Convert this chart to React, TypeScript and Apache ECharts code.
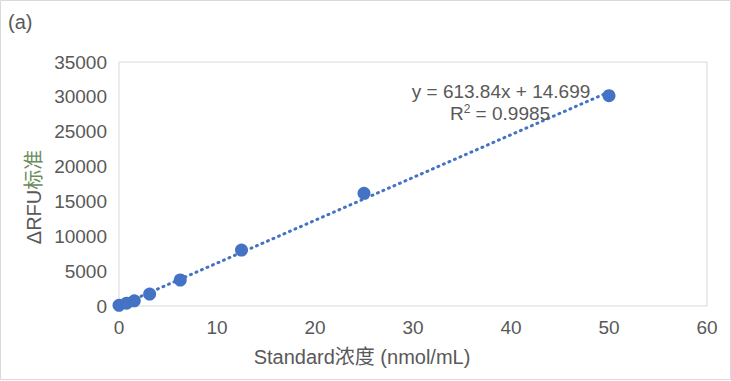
import React, { useEffect, useRef } from "react";
import * as echarts from "echarts";

// Data
const concentrations = [0, 0.78, 1.5625, 3.125, 6.25, 12.5, 25, 50];
const deltaRFU = [100, 400, 750, 1720, 3730, 8030, 16170, 30170];
const TREND_SLOPE = 613.84;
const TREND_INTERCEPT = 14.699;
const TREND_X_RANGE = [0, 50];
const equationText = "y = 613.84x + 14.699";
const r2Value = "0.9985";
const panelLabel = "(a)";
const xTitle = "Standard浓度 (nmol/mL)";
const yTitleA = "ΔRFU";
const yTitleB = "标准";

const FONT = "'Liberation Sans', Arial, 'Noto Sans CJK SC', sans-serif";
const TEXT = "#595959";
const BLUE = "#4472C4";

export default function App() {
  const ref = useRef<HTMLDivElement>(null);
  useEffect(() => {
    if (!ref.current) return;
    const chart = echarts.init(ref.current, undefined, { renderer: "svg" });
    const points = concentrations.map((x, i) => [x, deltaRFU[i]]);
    const trend = TREND_X_RANGE.map((x) => [x, TREND_SLOPE * x + TREND_INTERCEPT]);
    chart.setOption({
      animation: false,
      backgroundColor: "#ffffff",
      textStyle: { fontFamily: FONT },
      grid: {
        left: 119,
        top: 62,
        width: 588,
        height: 244,
        show: true,
        borderColor: "#d9d9d9",
        borderWidth: 1,
      },
      xAxis: {
        type: "value",
        min: 0,
        max: 60,
        interval: 10,
        axisLine: { show: false },
        axisTick: { show: false },
        splitLine: { show: false },
        axisLabel: { color: TEXT, fontSize: 19, margin: 12, fontFamily: FONT },
      },
      yAxis: {
        type: "value",
        min: 0,
        max: 35000,
        interval: 5000,
        axisLine: { show: false },
        axisTick: { show: false },
        splitLine: { show: false },
        axisLabel: {
          color: TEXT,
          fontSize: 19,
          margin: 12,
          fontFamily: FONT,
          formatter: (v: number) => String(v),
        },
      },
      series: [
        {
          type: "line",
          data: trend,
          showSymbol: false,
          symbol: "none",
          z: 1,
          lineStyle: { color: BLUE, width: 3, type: [1, 5], cap: "round" },
        },
        {
          type: "scatter",
          data: points,
          symbol: "circle",
          symbolSize: 13,
          z: 3,
          itemStyle: { color: BLUE, opacity: 1 },
        },
      ],
      graphic: [
        {
          type: "rect",
          shape: { x: 0.5, y: 0.5, width: 730, height: 379 },
          style: { fill: "none", stroke: "#d9d9d9", lineWidth: 1 },
          silent: true,
        },
        {
          type: "text",
          x: 8,
          y: 22,
          style: {
            text: panelLabel,
            fill: TEXT,
            font: `20px ${FONT}`,
            textAlign: "left",
            textVerticalAlign: "middle",
          },
        },
        {
          type: "text",
          x: 501,
          y: 91,
          z: 10,
          style: {
            text: equationText,
            fill: TEXT,
            font: `19px ${FONT}`,
            textAlign: "center",
            textVerticalAlign: "middle",
          },
        },
        {
          type: "text",
          x: 500,
          y: 113,
          z: 10,
          style: {
            text: `{a|R}{s|2}{a| = ${r2Value}}`,
            textAlign: "center",
            textVerticalAlign: "middle",
            rich: {
              a: { fill: TEXT, fontSize: 19, fontFamily: FONT },
              s: { fill: TEXT, fontSize: 12, fontFamily: FONT, padding: [0, 0, 9, 0] },
            },
          },
        },
        {
          type: "text",
          x: 362,
          y: 357,
          style: {
            text: xTitle,
            fill: TEXT,
            font: `20px ${FONT}`,
            textAlign: "center",
            textVerticalAlign: "middle",
          },
        },
        {
          type: "text",
          x: 34,
          y: 197,
          rotation: Math.PI / 2,
          style: {
            text: `{a|${yTitleA}}{b|${yTitleB}}`,
            textAlign: "center",
            textVerticalAlign: "middle",
            rich: {
              a: { fill: TEXT, fontSize: 20, fontFamily: FONT },
              b: { fill: "#6a8b5c", fontSize: 20, fontFamily: FONT },
            },
          },
        },
      ],
    });
    return () => chart.dispose();
  }, []);
  return (
    <div
      ref={ref}
      style={{ position: "fixed", left: 0, top: 0, width: 731, height: 381 }}
    />
  );
}
